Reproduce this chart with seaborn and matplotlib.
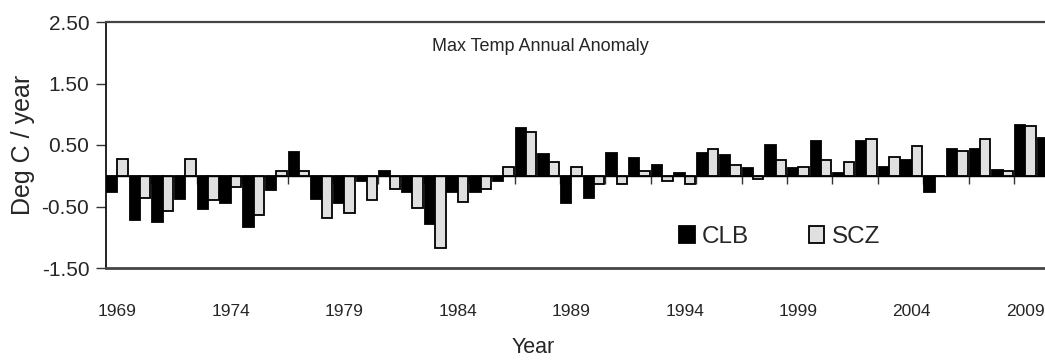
import numpy as np
import pandas as pd
import matplotlib
matplotlib.use("Agg")
import matplotlib.pyplot as plt
import seaborn as sns
from matplotlib.patches import Patch

# ---------------- data ----------------
years = list(range(1969, 2011))
clb = [-0.26, -0.72, -0.76, -0.37, -0.54, -0.44, -0.83, -0.23, 0.39, -0.37,
       -0.45, -0.09, 0.07, -0.26, -0.78, -0.26, -0.26, -0.08, 0.78, 0.36,
       -0.44, -0.36, 0.37, 0.29, 0.18, 0.05, 0.37, 0.33, 0.12, 0.50,
       0.12, 0.57, 0.05, 0.57, 0.15, 0.26, -0.27, 0.43, 0.43, 0.09,
       0.82, 0.61]
scz = [0.27, -0.36, -0.57, 0.27, -0.40, -0.19, -0.64, 0.07, 0.07, -0.69,
       -0.61, -0.39, -0.22, -0.53, -1.18, -0.43, -0.21, 0.15, 0.71, 0.22,
       0.15, -0.13, -0.14, 0.08, -0.08, -0.14, 0.43, 0.18, -0.05, 0.25,
       0.15, 0.25, 0.22, 0.60, 0.31, 0.49, 0.00, 0.40, 0.60, 0.08,
       0.81, 0.43]
stations = ["CLB", "SCZ"]
station_colors = {"CLB": "#000000", "SCZ": "#e0e0e0"}
y_ticks = [-1.5, -0.5, 0.5, 1.5, 2.5]
label_years = [1969, 1974, 1979, 1984, 1989, 1994, 1999, 2004, 2009]
title_text = "Max Temp Annual Anomaly"
x_title = "Year"
y_title = "Deg C / year"

# ---------------- style ----------------
sns.set_style("white")
plt.rcParams["font.family"] = ["Liberation Sans Narrow", "Liberation Sans", "DejaVu Sans"]

n = len(years)
df = pd.DataFrame({
    "Year": [str(y) for y in years] * 2,
    "Station": ["CLB"] * n + ["SCZ"] * n,
    "Anomaly": clb + scz,
})

W, H = 1045, 360
fig = plt.figure(figsize=(W / 100, H / 100), dpi=100)
left_px, top_px, bottom_px = 106, 22, 268
ax = fig.add_axes([left_px / W, (H - bottom_px) / H, (W - left_px) / W, (bottom_px - top_px) / H])

sns.barplot(data=df, x="Year", y="Anomaly", hue="Station", hue_order=stations,
            order=[str(y) for y in years], palette=station_colors, saturation=1,
            width=0.92, edgecolor="black", linewidth=1.3, errorbar=None,
            legend=False, ax=ax, zorder=3)

# axis ranges (right side of the plot is cut off, as in the reference)
cat_px = 22.7
ax.set_xlim(-0.5, -0.5 + (W - left_px) / cat_px)
ax.set_ylim(y_ticks[0], y_ticks[-1])

# zero line with category tick marks every 2 years
ax.axhline(0, color="black", lw=1.0, zorder=4)
tick_len = 8 / ((bottom_px - top_px) / (y_ticks[-1] - y_ticks[0]))
ax.vlines(np.arange(0, n + 1, 2) - 0.5, -tick_len, 0, color="#333333", lw=1.0, zorder=2)

# ticks
ax.set_yticks(y_ticks, [f"{v:.2f}" for v in y_ticks])
ax.set_xticks([years.index(y) for y in label_years], [str(y) for y in label_years])
ax.tick_params(axis="x", bottom=False, length=0, pad=26, labelsize=12.5)
ax.tick_params(axis="y", left=True, length=7, width=1.0, color="#333333",
               direction="out", pad=5, labelsize=15)

# spines
ax.spines["right"].set_visible(False)
ax.spines["left"].set_color("#111111")
ax.spines["left"].set_linewidth(1.3)
ax.spines["top"].set_color("#444444")
ax.spines["top"].set_linewidth(1.6)
ax.spines["bottom"].set_color("#444444")
ax.spines["bottom"].set_linewidth(2.0)

# labels
ax.set_xlabel(x_title, fontsize=15.5)
ax.xaxis.set_label_coords((533 - left_px) / (W - left_px), -0.28)
ax.set_ylabel(y_title, fontsize=18, labelpad=5)
ax.text((540 - left_px) / (W - left_px), 0.902, title_text, transform=ax.transAxes,
        ha="center", va="center", fontsize=13)

# legend
handles = [Patch(facecolor=station_colors[s], edgecolor="black", linewidth=1.3) for s in stations]
ax.legend(handles, stations, loc="center left", bbox_to_anchor=(0.61, 0.126),
          ncol=2, frameon=False, fontsize=17.5, handlelength=0.65, handleheight=0.65,
          handletextpad=0.3, columnspacing=2.45, borderpad=0, borderaxespad=0)

fig.savefig("out.png", dpi=100)
